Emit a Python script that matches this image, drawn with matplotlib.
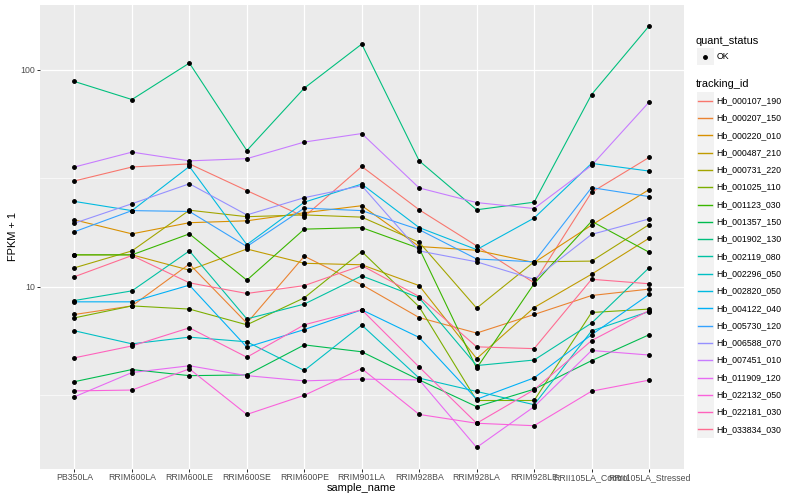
import matplotlib
matplotlib.use("Agg")
import matplotlib.pyplot as plt
import numpy as np
from matplotlib.lines import Line2D
from matplotlib.patches import Rectangle
from matplotlib.ticker import FixedLocator, FixedFormatter, NullFormatter

plt.rcParams["font.family"] = ["Liberation Sans", "DejaVu Sans"]

W, H = 800, 500

sample_names = [
    "PB350LA", "RRIM600LA", "RRIM600LE", "RRIM600SE", "RRIM600PE", "RRIM901LA",
    "RRIM928BA", "RRIM928LA", "RRIM928LE", "RRII105LA_Control", "RRII105LA_Stressed",
]

tracking_ids = [
    "Hb_000107_190", "Hb_000207_150", "Hb_000220_010", "Hb_000487_210",
    "Hb_000731_220", "Hb_001025_110", "Hb_001123_030", "Hb_001357_150",
    "Hb_001902_130", "Hb_002119_080", "Hb_002296_050", "Hb_002820_050",
    "Hb_004122_040", "Hb_005730_120", "Hb_006588_070", "Hb_007451_010",
    "Hb_011909_120", "Hb_022132_050", "Hb_022181_030", "Hb_033834_030",
]

# FPKM + 1, one value per sample
hb_000107_190 = [30.7, 35.6, 36.8, 27.7, 21.0, 35.8, 22.6, 15.4, 10.4, 27.2, 39.4]
hb_000207_150 = [7.43, 8.14, 12.7, 6.78, 13.8, 10.2, 7.19, 6.10, 7.43, 9.09, 9.73]
hb_000220_010 = [20.3, 17.5, 19.7, 20.1, 21.9, 23.6, 15.3, 14.7, 12.9, 19.2, 28.0]
hb_000487_210 = [14.0, 14.0, 11.9, 14.9, 12.8, 12.6, 10.1, 4.65, 8.00, 11.4, 16.7]
hb_000731_220 = [12.2, 14.6, 22.5, 21.0, 21.4, 20.9, 16.0, 7.95, 13.0, 13.1, 19.3]
hb_001025_110 = [7.17, 8.14, 7.87, 6.66, 8.87, 14.5, 8.06, 2.98, 2.98, 7.59, 7.87]
hb_001123_030 = [14.0, 14.0, 17.5, 10.7, 18.4, 18.7, 15.0, 4.20, 10.3, 20.0, 14.4]
hb_001357_150 = [3.64, 4.14, 3.88, 3.91, 5.38, 5.00, 3.71, 2.79, 3.36, 4.55, 5.99]
hb_001902_130 = [88.3, 72.9, 107.4, 42.4, 82.3, 131.4, 38.0, 22.6, 24.5, 76.9, 159.1]
hb_002119_080 = [8.62, 9.55, 14.6, 7.09, 8.30, 11.2, 8.87, 4.32, 4.58, 6.78, 12.2]
hb_002296_050 = [6.25, 5.44, 5.84, 5.56, 4.10, 6.64, 3.78, 3.28, 2.85, 6.24, 7.67]
hb_002820_050 = [24.7, 22.4, 35.8, 15.6, 24.5, 29.7, 18.7, 14.8, 20.7, 37.0, 34.1]
hb_004122_040 = [8.50, 8.50, 10.15, 5.25, 6.33, 7.81, 5.82, 3.02, 3.79, 5.99, 9.19]
hb_005730_120 = [17.9, 22.4, 22.2, 15.3, 23.0, 22.4, 18.3, 13.4, 13.0, 28.6, 26.0]
hb_006588_070 = [19.6, 24.1, 29.8, 21.4, 25.7, 29.2, 14.6, 13.0, 10.8, 17.4, 20.5]
hb_007451_010 = [35.6, 41.7, 38.0, 38.9, 46.4, 50.8, 28.5, 24.4, 22.9, 36.2, 70.9]
hb_011909_120 = [3.10, 4.01, 4.31, 3.88, 3.67, 3.74, 3.71, 1.81, 2.79, 5.07, 4.83]
hb_022132_050 = [3.30, 3.33, 4.17, 2.57, 3.15, 4.18, 2.57, 2.34, 2.28, 3.29, 3.70]
hb_022181_030 = [4.69, 5.32, 6.45, 4.72, 6.66, 7.81, 4.25, 2.34, 3.34, 5.63, 7.75]
hb_033834_030 = [11.1, 13.9, 10.4, 9.29, 10.1, 12.5, 8.99, 5.27, 5.17, 10.8, 10.3]

series = [
    hb_000107_190, hb_000207_150, hb_000220_010, hb_000487_210, hb_000731_220,
    hb_001025_110, hb_001123_030, hb_001357_150, hb_001902_130, hb_002119_080,
    hb_002296_050, hb_002820_050, hb_004122_040, hb_005730_120, hb_006588_070,
    hb_007451_010, hb_011909_120, hb_022132_050, hb_022181_030, hb_033834_030,
]

# ggplot2 default hue palette for 20 levels
colors = [
    "#F8766D", "#EA8331", "#D89000", "#C09B00", "#A3A500", "#7CAE00", "#39B600",
    "#00BB4E", "#00BF7D", "#00C1A3", "#00BFC4", "#00BAE0", "#00B0F6", "#35A2FF",
    "#9590FF", "#C77CFF", "#E76BF3", "#FA62DB", "#FF62BC", "#FF6C91",
]


def fig_xy(x, y):
    """pixel position (from top-left) -> figure fraction"""
    return x / W, 1 - y / H


fig = plt.figure(figsize=(W / 72, H / 72), dpi=72)
ax = fig.add_axes([40 / W, 1 - 468.5 / H, (683.5 - 40) / W, (468.5 - 5) / H])

x = np.arange(len(sample_names))
for vals, col in zip(series, colors):
    ax.plot(x, vals, color=col, lw=1.1, zorder=2)
for vals in series:
    ax.plot(x, vals, ls="none", marker="o", ms=3.8, color="black", zorder=3)

allv = np.concatenate([np.asarray(v) for v in series])
lo, hi = np.log10(allv.min()), np.log10(allv.max())
pad = 0.05 * (hi - lo)
ax.set_yscale("log")
ax.set_ylim(10 ** (lo - pad), 10 ** (hi + pad))
ax.set_xlim(-0.6, len(sample_names) - 1 + 0.6)

ax.set_facecolor("#EBEBEB")
for s in ax.spines.values():
    s.set_visible(False)

ax.yaxis.set_major_locator(FixedLocator([10, 100]))
ax.yaxis.set_major_formatter(FixedFormatter(["10", "100"]))
ax.yaxis.set_minor_locator(FixedLocator([10 ** 0.5, 10 ** 1.5, 10 ** 2.5]))
ax.yaxis.set_minor_formatter(NullFormatter())
ax.set_xticks(x)
ax.set_xticklabels(sample_names)

ax.grid(which="major", color="white", lw=1.2)
ax.grid(which="minor", axis="y", color="white", lw=0.6)
ax.set_axisbelow(True)
ax.tick_params(which="major", length=2.75, width=1.0, color="#333333",
               labelcolor="#4D4D4D", labelsize=8.8, pad=2.2)
ax.tick_params(which="minor", length=0)

fig.text(*fig_xy(361.5, 488), "sample_name", fontsize=11, ha="center", va="center")
fig.text(*fig_xy(13, 236.5), "FPKM + 1", fontsize=11, rotation=90,
         ha="center", va="center")

# legend: quant_status
key = 17.3
fig.text(*fig_xy(696, 40.7), "quant_status", fontsize=11, ha="left", va="center")
fig.add_artist(Rectangle(fig_xy(696.5, 56.7 + key / 2), key / W, key / H,
                         transform=fig.transFigure, facecolor="#F2F2F2",
                         edgecolor="none"))
px, py = fig_xy(705, 56.7)
fig.add_artist(Line2D([px], [py], marker="o", ms=3.8, color="black",
                      transform=fig.transFigure))
fig.text(*fig_xy(716.7, 56.7), "OK", fontsize=8.8, ha="left", va="center")

# legend: tracking_id
fig.text(*fig_xy(696, 84), "tracking_id", fontsize=11, ha="left", va="center")
for i, (tid, col) in enumerate(zip(tracking_ids, colors)):
    yc = 100.7 + i * key
    fig.add_artist(Rectangle(fig_xy(696.5, yc + key / 2), key / W, key / H,
                             transform=fig.transFigure, facecolor="#F2F2F2",
                             edgecolor="none"))
    x0, y0 = fig_xy(698.2, yc)
    x1, _ = fig_xy(712.1, yc)
    fig.add_artist(Line2D([x0, x1], [y0, y0], color=col, lw=1.4,
                          transform=fig.transFigure))
    fig.text(*fig_xy(716.7, yc), tid, fontsize=8.8, ha="left", va="center")

fig.savefig("out.png", dpi=72)
